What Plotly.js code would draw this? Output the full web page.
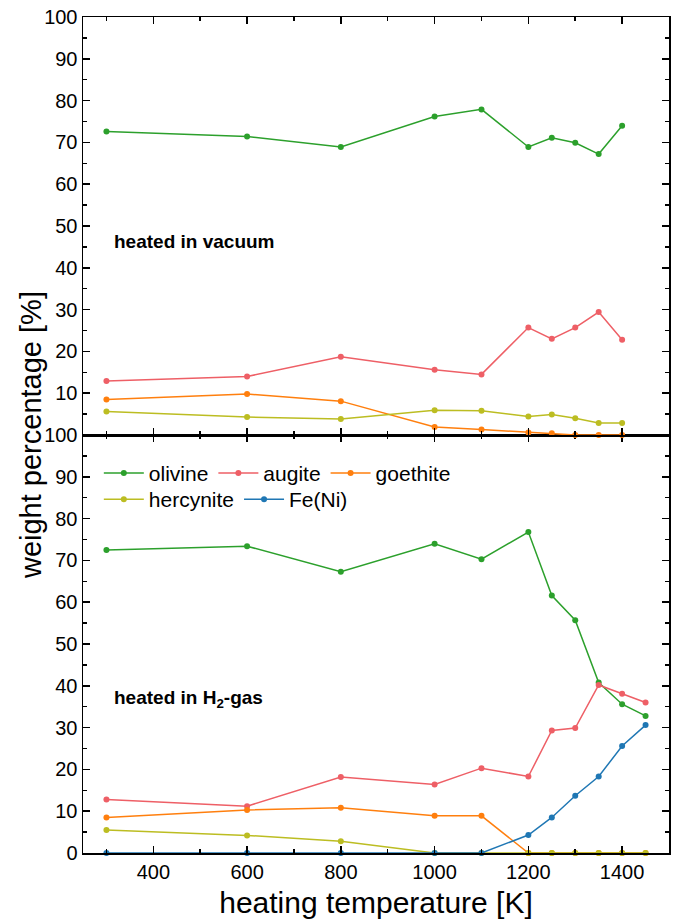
<!DOCTYPE html>
<html>
<head>
<meta charset="utf-8">
<script src="https://cdn.plot.ly/plotly-3.0.1.min.js"></script>
<style>
  html, body { margin: 0; padding: 0; background: #fff; }
  #chart { width: 681px; height: 919px; }
</style>
</head>
<body>
<div id="chart"></div>
<script>
// ---- data ----
const xVacuum = [300, 600, 800, 1000, 1100, 1200, 1250, 1300, 1350, 1400];
const vacOlivine   = [72.6, 71.4, 68.9, 76.2, 77.9, 68.9, 71.1, 69.9, 67.2, 74.0];
const vacAugite    = [12.9, 14.0, 18.7, 15.6, 14.5, 25.7, 23.0, 25.7, 29.4, 22.8];
const vacGoethite  = [8.5, 9.8, 8.1, 1.9, 1.3, 0.6, 0.4, 0, 0, 0];
const vacHercynite = [5.6, 4.3, 3.8, 5.9, 5.8, 4.4, 4.9, 4.0, 2.9, 2.9];

const xH2 = [300, 600, 800, 1000, 1100, 1200, 1250, 1300, 1350, 1400, 1450];
const h2Olivine   = [72.5, 73.4, 67.3, 74.0, 70.3, 76.8, 61.6, 55.7, 40.8, 35.6, 32.8];
const h2Augite    = [12.8, 11.2, 18.2, 16.4, 20.3, 18.3, 29.3, 29.9, 40.2, 38.1, 36.0];
const h2Goethite  = [8.5, 10.3, 10.8, 8.9, 8.9, 0, 0, 0, 0, 0, 0];
const h2Hercynite = [5.5, 4.2, 2.8, 0, 0, 0, 0, 0, 0, 0, 0];
const h2FeNi      = [0, 0, 0, 0, 0, 4.3, 8.5, 13.7, 18.3, 25.6, 30.6];

const seriesNames = ['olivine', 'augite', 'goethite', 'hercynite', 'Fe(Ni)'];
const seriesColors = ['#2ca02c', '#ee5f66', '#ff7f0e', '#bcbd22', '#1f77b4'];
const yTickValsTop = [10, 20, 30, 40, 50, 60, 70, 80, 90, 100];
const yTickValsBottom = [0, 10, 20, 30, 40, 50, 60, 70, 80, 90, 100];

const FONT = 'Liberation Sans, Arial, Helvetica, sans-serif';

function mk(x, y, i, panel, legendName) {
  return {
    x: x, y: y, name: seriesNames[i], type: 'scatter', mode: 'lines+markers',
    line: {color: seriesColors[i], width: 1.5},
    marker: {color: seriesColors[i], size: 6},
    xaxis: panel === 'top' ? 'x2' : 'x',
    yaxis: panel === 'top' ? 'y2' : 'y',
    cliponaxis: false,
    showlegend: panel !== 'top',
    legend: legendName || 'legend'
  };
}

const traces = [
  mk(xVacuum, vacOlivine, 0, 'top'),
  mk(xVacuum, vacAugite, 1, 'top'),
  mk(xVacuum, vacGoethite, 2, 'top'),
  mk(xVacuum, vacHercynite, 3, 'top'),
  mk(xH2, h2Olivine, 0, 'bottom', 'legend'),
  mk(xH2, h2Augite, 1, 'bottom', 'legend'),
  mk(xH2, h2Goethite, 2, 'bottom', 'legend'),
  mk(xH2, h2Hercynite, 3, 'bottom', 'legend2'),
  mk(xH2, h2FeNi, 4, 'bottom', 'legend2')
];

const xCommon = {
  range: [250, 1500], tickmode: 'linear', tick0: 0, dtick: 200,
  ticks: 'inside', ticklen: 7, tickwidth: 1.5, tickcolor: '#000',
  minor: {tickmode: 'linear', tick0: 0, dtick: 100, ticks: 'inside', ticklen: 4, tickwidth: 1.5, tickcolor: '#000'},
  showline: true, linecolor: '#000', linewidth: 1.5, mirror: 'allticks',
  showgrid: false, zeroline: false,
  tickfont: {family: FONT, size: 20, color: '#000'}
};
const yCommon = {
  range: [0, 100], tickmode: 'array',
  ticks: 'inside', ticklen: 7, tickwidth: 1.5, tickcolor: '#000',
  minor: {tickmode: 'linear', tick0: 0, dtick: 5, ticks: 'inside', ticklen: 4, tickwidth: 1.5, tickcolor: '#000'},
  showline: true, linecolor: '#000', linewidth: 1.5, mirror: 'allticks',
  showgrid: false, zeroline: false,
  tickfont: {family: FONT, size: 20, color: '#000'}
};

const legendCommon = {
  orientation: 'h', xref: 'paper', yref: 'paper', xanchor: 'left', yanchor: 'middle',
  bgcolor: 'rgba(0,0,0,0)', borderwidth: 0, itemwidth: 40,
  font: {family: FONT, size: 21, color: '#000'}, tracegroupgap: 0
};

const layout = {
  width: 681, height: 919,
  margin: {l: 83, r: 12, t: 17, b: 66, pad: 0},
  paper_bgcolor: '#fff', plot_bgcolor: '#fff',
  font: {family: FONT, color: '#000'},
  xaxis: Object.assign({}, xCommon, {
    domain: [0, 1], anchor: 'y',
    title: {text: 'heating temperature [K]', font: {family: FONT, size: 30, color: '#000'}, standoff: 10}
  }),
  yaxis: Object.assign({}, yCommon, {domain: [0, 0.5], anchor: 'x', tickvals: yTickValsBottom}),
  xaxis2: Object.assign({}, xCommon, {domain: [0, 1], anchor: 'y2', showticklabels: false, matches: 'x'}),
  yaxis2: Object.assign({}, yCommon, {domain: [0.5, 1], anchor: 'x2', tickvals: yTickValsTop}),
  legend: Object.assign({}, legendCommon, {x: 0.027, y: 0.454}),
  legend2: Object.assign({}, legendCommon, {x: 0.027, y: 0.4227}),
  showlegend: true,
  annotations: [
    {text: 'weight percentage [%]', xref: 'paper', yref: 'paper', x: -0.0887, y: 0.5,
     xanchor: 'center', yanchor: 'middle', textangle: -90, showarrow: false,
     font: {family: FONT, size: 29, color: '#000'}},
    {text: '<b>heated in vacuum</b>', xref: 'paper', yref: 'paper', x: 0.05, y: 0.731,
     xanchor: 'left', yanchor: 'middle', showarrow: false,
     font: {family: FONT, size: 19, color: '#000'}},
    {text: '<b>heated in H<sub>2</sub>-gas</b>', xref: 'paper', yref: 'paper', x: 0.05, y: 0.184,
     xanchor: 'left', yanchor: 'middle', showarrow: false,
     font: {family: FONT, size: 19, color: '#000'}}
  ]
};

Plotly.newPlot('chart', traces, layout, {displayModeBar: false, staticPlot: true});
</script>
</body>
</html>
